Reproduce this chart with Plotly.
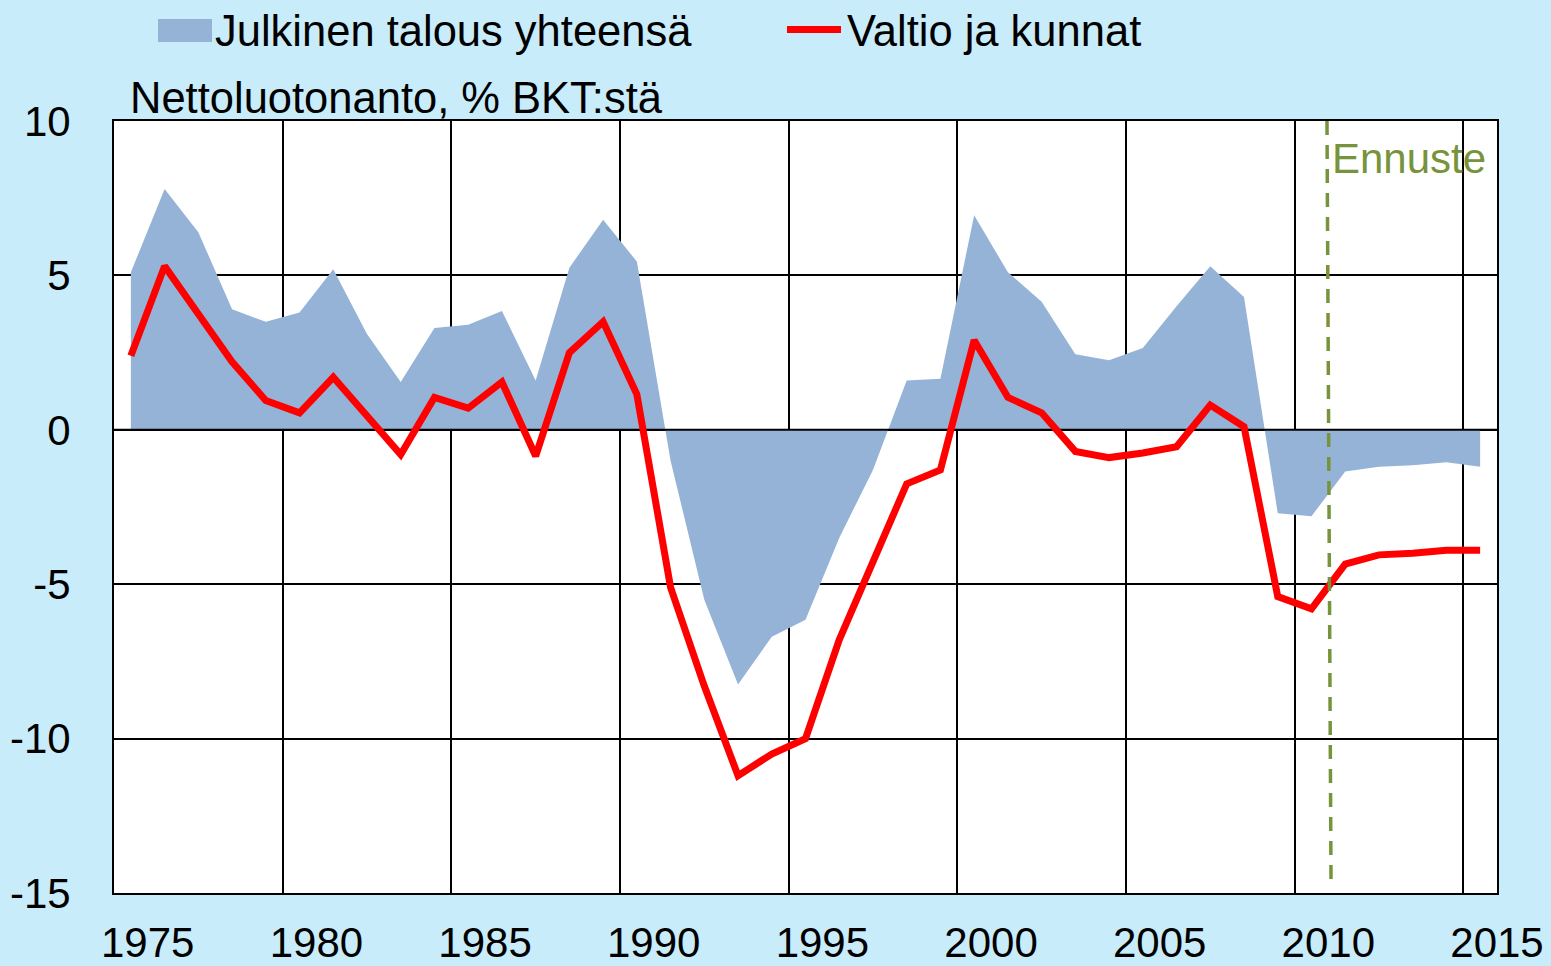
import plotly.graph_objects as go

years = list(range(1975, 2016))

julkinen = [5.1, 7.8, 6.4, 3.9, 3.5, 3.8, 5.2, 3.1, 1.55, 3.3,
            3.4, 3.85, 1.6, 5.25, 6.8, 5.45, -1.0, -5.5, -8.25, -6.7,
            -6.15, -3.5, -1.3, 1.6, 1.65, 6.95, 5.1, 4.15, 2.45, 2.25,
            2.65, 4.0, 5.3, 4.3, -2.7, -2.8, -1.35, -1.2, -1.15, -1.05,
            -1.2]

valtio = [2.4, 5.3, 3.75, 2.2, 0.95, 0.55, 1.7, 0.45, -0.8, 1.05,
          0.7, 1.55, -0.85, 2.5, 3.5, 1.15, -5.1, -8.3, -11.2, -10.5,
          -10.0, -6.8, -4.3, -1.75, -1.3, 2.9, 1.05, 0.55, -0.7, -0.9,
          -0.75, -0.55, 0.8, 0.1, -5.4, -5.8, -4.35, -4.05, -4.0, -3.9,
          -3.9]

series_names = ["Julkinen talous yhteensä", "Valtio ja kunnat"]
x_labels = ["1975", "1980", "1985", "1990", "1995", "2000", "2005", "2010", "2015"]
y_ticks = [10, 5, 0, -5, -10, -15]
forecast_start = 2010.5

BLUE = "#95B3D7"
RED = "#FF0000"
GREEN = "#77933C"

x_min, x_max = years[0] - 0.5, years[-1] + 0.5
y_min, y_max = -15, 10

W, H = 1551, 966
ML, MR, MT, MB = 114, 54, 121, 73
PW, PH = W - ML - MR, H - MT - MB


def px_x(p):
    return (p - ML) / PW


def px_y(p):
    return 1 + (MT - p) / PH


FONT = "Liberation Sans, Arial, sans-serif"
FS = 42
FS_TXT = 43.5

fig = go.Figure()

fig.add_trace(go.Scatter(
    x=years, y=julkinen, mode="none", fill="tozeroy",
    fillcolor=BLUE, name=series_names[0], showlegend=False,
))
# zero axis line drawn above the area
fig.add_trace(go.Scatter(
    x=[x_min, x_max], y=[0, 0], mode="lines",
    line=dict(color="black", width=2), showlegend=False, hoverinfo="skip",
))
fig.add_trace(go.Scatter(
    x=years, y=valtio, mode="lines",
    line=dict(color=RED, width=7), name=series_names[1], showlegend=False,
))

# forecast divider
fig.add_shape(type="line", xref="x", yref="y",
              x0=forecast_start - 0.04, y0=y_max, x1=forecast_start + 0.08, y1=y_min + 0.25,
              line=dict(color=GREEN, width=3.5, dash="14px,10px"), layer="above")

fig.add_annotation(x=forecast_start, y=8.8, xref="x", yref="y",
                   text="Ennuste", showarrow=False, xanchor="left", yanchor="middle",
                   xshift=2, font=dict(family=FONT, size=FS, color=GREEN))

fig.add_annotation(x=px_x(128), y=px_y(98), xref="paper", yref="paper",
                   text="Nettoluotonanto, % BKT:stä", showarrow=False,
                   xanchor="left", yanchor="middle",
                   font=dict(family=FONT, size=FS_TXT, color="black"))

# manual legend
fig.add_shape(type="rect", xref="paper", yref="paper",
              x0=px_x(158), x1=px_x(212), y0=px_y(42), y1=px_y(19),
              fillcolor=BLUE, line=dict(width=0), layer="above")
fig.add_annotation(x=px_x(213), y=px_y(31), xref="paper", yref="paper",
                   text=series_names[0], showarrow=False,
                   xanchor="left", yanchor="middle",
                   font=dict(family=FONT, size=FS_TXT, color="black"))
fig.add_shape(type="line", xref="paper", yref="paper",
              x0=px_x(787), x1=px_x(841), y0=px_y(29.5), y1=px_y(29.5),
              line=dict(color=RED, width=7), layer="above")
fig.add_annotation(x=px_x(845), y=px_y(31), xref="paper", yref="paper",
                   text=series_names[1], showarrow=False,
                   xanchor="left", yanchor="middle",
                   font=dict(family=FONT, size=FS_TXT, color="black"))

fig.update_layout(
    width=W, height=H,
    margin=dict(l=ML, r=MR, t=MT, b=MB, autoexpand=False),
    paper_bgcolor="#C9ECFA",
    plot_bgcolor="white",
    font=dict(family=FONT, size=FS, color="black"),
    showlegend=False,
    xaxis=dict(
        range=[x_min, x_max],
        tickvals=[int(t) + 0.5 for t in x_labels],
        ticktext=x_labels,
        showgrid=False,
        zeroline=False,
        showline=True, mirror=True, linecolor="black", linewidth=2,
        ticks="", ticklabelstandoff=12, automargin=False,
        minor=dict(tick0=x_min, dtick=5, showgrid=True, gridcolor="black", gridwidth=1.5),
        fixedrange=True,
    ),
    yaxis=dict(
        range=[y_min, y_max],
        tickvals=y_ticks,
        ticktext=[str(v) for v in y_ticks],
        showgrid=True, gridcolor="black", gridwidth=1.5,
        zeroline=False,
        showline=True, mirror=True, linecolor="black", linewidth=2,
        ticks="", ticklabelstandoff=33, automargin=False,
        fixedrange=True,
    ),
)

fig.write_html("out.html", config={"displayModeBar": False},
               post_script="document.body.style.margin='0';")
